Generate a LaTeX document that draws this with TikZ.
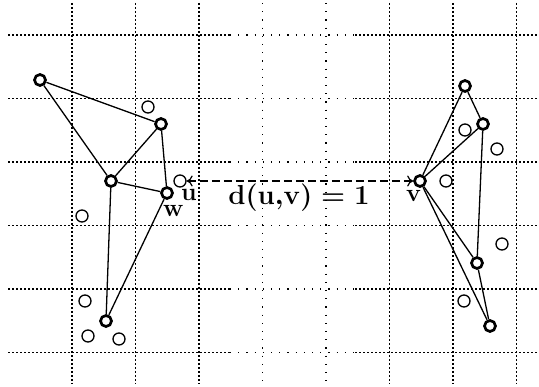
\RequirePackage{fix-cm}
\documentclass[tikz,border=0pt]{standalone}
\usetikzlibrary{arrows.meta}
\begin{document}
\begin{tikzpicture}[x=1pt,y=-1pt,
  densegrid/.style={line width=1.8pt, dash pattern=on 1.8pt off 2.2pt},
  sparsegrid/.style={line width=1.2pt, dash pattern=on 1.2pt off 7pt},
  vtx/.style={circle, draw, line width=2.7pt, minimum size=11pt, inner sep=0pt, fill=white},
  pt/.style={circle, draw, line width=1.3pt, minimum size=12pt, inner sep=0pt, fill=white},
  edge/.style={line width=1.3pt},
  lbl/.style={font=\fontsize{25}{30}\selectfont\boldmath, inner sep=0pt}]
\useasboundingbox (0,0) rectangle (539,387);
% grid
\foreach \x in {72,135.5,199,389.5,453,516.5}
  \draw[densegrid] (\x,3) -- (\x,384);
\foreach \x in {262.5,326}
  \draw[sparsegrid] (\x,3) -- (\x,384);
\foreach \y in {35,98.5,162,225.5,289,352.5} {
  \draw[densegrid] (8,\y) -- (230,\y);
  \draw[sparsegrid] (230,\y) -- (355,\y);
  \draw[densegrid] (355,\y) -- (539,\y);
}
% left cluster
\node[vtx] (A) at (40,80) {};
\node[vtx] (B) at (161,124) {};
\node[vtx] (C) at (111,181) {};
\node[vtx] (D) at (167,193) {};
\node[vtx] (E) at (106,321) {};
\draw[edge] (A) -- (B);
\draw[edge] (A) -- (C);
\draw[edge] (B) -- (C);
\draw[edge] (B) -- (D);
\draw[edge] (C) -- (D);
\draw[edge] (C) -- (E);
\draw[edge] (D) -- (E);
\node[pt] (p1) at (148,107) {};
\node[pt] (s1) at (180,181) {};
\node[pt] (p2) at (82,216) {};
\node[pt] (p3) at (85,301) {};
\node[pt] (p4) at (88,336) {};
\node[pt] (p5) at (119,339) {};
% right cluster
\node[vtx] (F) at (465,86) {};
\node[vtx] (G) at (483,124) {};
\node[vtx] (V) at (420,181) {};
\node[vtx] (H) at (477,263) {};
\node[vtx] (I) at (490,326) {};
\draw[edge] (V) -- (F);
\draw[edge] (F) -- (G);
\draw[edge] (V) -- (G);
\draw[edge] (G) -- (H);
\draw[edge] (V) -- (H);
\draw[edge] (V) -- (I);
\draw[edge] (H) -- (I);
\node[pt] (q1) at (465,130) {};
\node[pt] (q2) at (497,149) {};
\node[pt] (q3) at (446,181) {};
\node[pt] (q4) at (502,244) {};
\node[pt] (q5) at (464,301) {};
% distance arrow
\draw[line width=1.2pt, dash pattern=on 8pt off 4pt,
  {To[length=6pt,width=11pt]}-{To[length=6pt,width=11pt]}] (s1.east) -- (V.west);
% labels
\node[lbl, anchor=base west] (lu) at (181,201) {$\mathbf{u}$};
\node[lbl, anchor=base west] (lw) at (163,217) {$\mathbf{w}$};
\node[lbl, anchor=base west] (lv) at (406,202) {$\mathbf{v}$};
\node[lbl, font=\fontsize{27.5}{32}\selectfont\boldmath, anchor=base] (ld) at (299,205) {$\mathbf{d(u{,}v) = 1}$};
\end{tikzpicture}
\end{document}
